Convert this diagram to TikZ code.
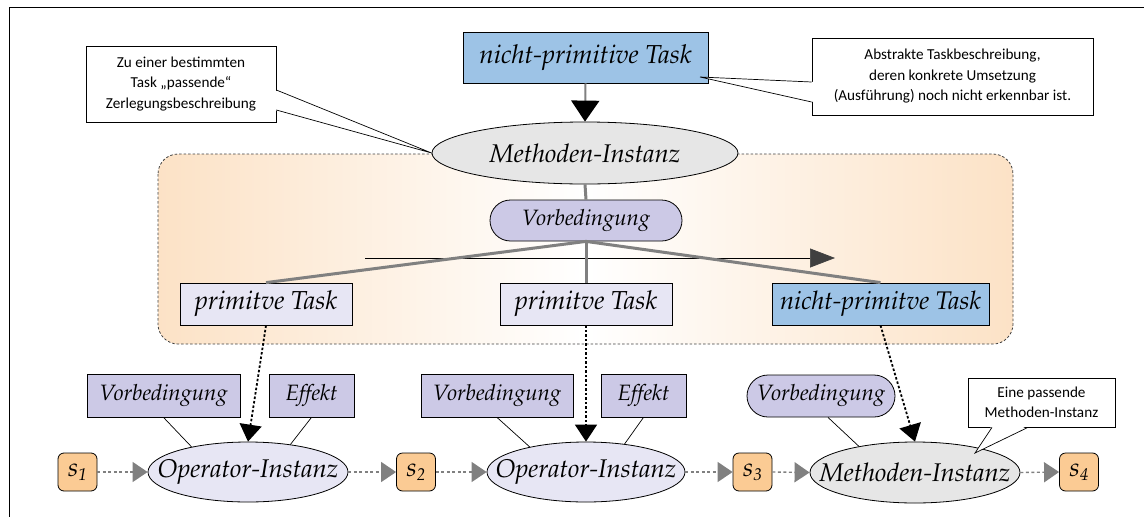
\documentclass[tikz,border=0pt]{standalone}
\usepackage[T1]{fontenc}
\usepackage{fontspec}
\newfontfamily\calibrifont{Carlito}
\usetikzlibrary{arrows.meta,shapes.geometric,shadows}
\newcommand\palit{\fontencoding{T1}\fontfamily{ppl}\fontseries{m}\fontshape{it}\selectfont}
\newcommand\zw[1]{\makebox[0pt]{#1}}
\definecolor{taskblue}{RGB}{157,195,230}
\definecolor{lavdark}{RGB}{204,201,230}
\definecolor{lavlight}{RGB}{231,230,244}
\definecolor{ellgray}{RGB}{230,230,230}
\definecolor{sorange}{RGB}{251,203,148}
\definecolor{frameorange}{RGB}{252,226,198}
\definecolor{linegray}{RGB}{128,128,128}
\definecolor{tipgray}{RGB}{64,64,64}
\tikzset{
  boxshadow/.style={drop shadow={shadow xshift=1.2pt,shadow yshift=-1.2pt,fill=black!45,opacity=0.5}},
  bluebox/.style={draw=black,line width=0.8pt,fill=taskblue,inner sep=0pt,boxshadow},
  primbox/.style={draw=black,line width=0.8pt,fill=lavlight,inner sep=0pt,font=\palit\fontsize{26}{30}\selectfont,boxshadow},
  condbox/.style={draw=black,line width=0.8pt,fill=lavdark,inner sep=0pt,font=\palit\fontsize{22.2}{26}\selectfont,boxshadow},
  condpill/.style={draw=black,line width=0.8pt,fill=lavdark,inner sep=0pt,font=\palit\fontsize{22.2}{26}\selectfont},
  instell/.style={ellipse,draw=black,line width=0.8pt,inner sep=0pt,font=\palit\fontsize{25.6}{30}\selectfont},
  statebox/.style={draw=black,line width=0.8pt,fill=sorange,rounded corners=6pt,minimum width=39pt,minimum height=38pt,inner sep=0pt,font=\palit\fontsize{26}{30}\selectfont},
  callout/.style={draw=black,line width=0.7pt,fill=white,inner sep=0pt,align=center,font=\calibrifont\fontsize{15.2}{20.5}\selectfont,boxshadow},
  tree/.style={draw=linegray,line width=3pt},
  seqarrow/.style={draw=linegray,line width=1.4pt,dash pattern=on 3pt off 2.5pt,-{Triangle[length=15pt,width=20pt,color=linegray]}},
  refarrow/.style={draw=black,line width=1.8pt,dash pattern=on 2.5pt off 2pt,-{Triangle[length=17pt,width=22pt]}},
  thin/.style={draw=black,line width=0.7pt}
}
\newcommand\sub[2]{#1\raisebox{-0.35ex}{\fontsize{17}{20}\selectfont #2}}
\begin{document}
\begin{tikzpicture}[x=1pt,y=-1pt]
\useasboundingbox (0,0) rectangle (1144,517);
% outer frame
\draw[line width=0.9pt] (9,517) -- (9,7) -- (1144,7);

% orange region
\shade[rounded corners=20pt,left color=frameorange,right color=frameorange,middle color=white] (158,154) rectangle (1013,344);
\draw[line width=0.8pt,black!75,dash pattern=on 2.5pt off 2pt,rounded corners=20pt] (158,154) rectangle (1013,344);

% top
\node[bluebox,font=\palit\fontsize{26}{30}\selectfont,minimum width=245pt,minimum height=51pt] (topTask) at (585.5,57.5) {nicht-primitive Task};
\node[instell,fill=ellgray,minimum width=306pt,minimum height=62pt] (topM) at (585,153) {\zw{Methoden-Instanz}};
\draw[draw=linegray,line width=2pt,-{Triangle[length=21pt,width=28pt,color=black]}] (topTask.south) -- (topM.north);

% decomposition
\node[condpill,rounded corners=20.5pt,minimum width=192pt,minimum height=41pt] (vorb0) at (586,220.5) {Vorbedingung};
\draw[tree] (topM.south) -- (vorb0.north);
\node[primbox,minimum width=172pt,minimum height=42pt] (pt1) at (266,304) {primitve Task};
\node[primbox,minimum width=172pt,minimum height=42pt] (pt2) at (586,304) {primitve Task};
\node[bluebox,font=\palit\fontsize{25.5}{30}\selectfont,minimum width=217pt,minimum height=42pt] (npt) at (880.5,304) {nicht-primitve Task};
\coordinate (ha) at (365,258);
\coordinate (hb) at (835,258);
\draw[thin,-{Triangle[length=25pt,width=19pt,color=tipgray]}] (ha) -- (hb);
\draw[tree] (vorb0.south) -- (pt1.north);
\draw[tree] (vorb0.south) -- (pt2.north);
\draw[tree] (vorb0.south) -- (npt.north);

% bottom row
\node[statebox] (s1) at (77.5,472) {\sub{s}{1}};
\node[instell,fill=lavlight,minimum width=200pt,minimum height=60pt] (op1) at (248,472) {\zw{Operator-Instanz}};
\node[condbox,minimum width=153pt,minimum height=43pt] (v1) at (163.5,395.5) {Vorbedingung};
\node[condbox,minimum width=85pt,minimum height=43pt] (e1) at (311.5,395.5) {Effekt};
\node[statebox] (s2) at (416,472) {\sub{s}{2}};
\node[instell,fill=lavlight,minimum width=198pt,minimum height=60pt] (op2) at (586,472) {\zw{Operator-Instanz}};
\node[condbox,minimum width=152pt,minimum height=43pt] (v2) at (497,395.5) {Vorbedingung};
\node[condbox,minimum width=85pt,minimum height=43pt] (e2) at (643.5,395.5) {Effekt};
\node[statebox] (s3) at (752.5,472) {\sub{s}{3}};
\node[instell,fill=ellgray,minimum width=210pt,minimum height=61pt] (m2) at (915,472.5) {\zw{Methoden-Instanz}};
\node[condpill,rounded corners=21pt,minimum width=148pt,minimum height=42pt] (v3) at (821,396) {Vorbedingung};
\node[statebox] (s4) at (1079,472) {\sub{s}{4}};

\draw[thin] (v1.south) -- (op1.156);
\draw[thin] (e1.south) -- (op1.33);
\draw[thin] (v2.south) -- (op2.156);
\draw[thin] (e2.south) -- (op2.36);
\draw[thin] ([xshift=7pt]v3.south) -- (m2.155);

\draw[seqarrow] (s1.east) -- (op1.west);
\draw[seqarrow] (op1.east) -- (s2.west);
\draw[seqarrow] (s2.east) -- (op2.west);
\draw[seqarrow] (op2.east) -- (s3.west);
\draw[seqarrow] (s3.east) -- (m2.west);
\draw[seqarrow] (m2.east) -- (s4.west);

\draw[refarrow] (pt1.south) -- (op1.north);
\draw[refarrow] (pt2.south) -- (op2.north);
\draw[refarrow] (npt.south) -- (m2.north);

% callouts
\node[callout,minimum width=190pt,minimum height=76pt] (cL) at (181,84) {Zu einer bestimmten\\Task „passende“\\Zerlegungsbeschreibung};
\fill[white] ([xshift=-2pt,yshift=-6pt]cL.east) -- (topM.west) -- ([xshift=-2pt,yshift=-26pt]cL.east) -- cycle;
\draw[line width=0.7pt] ([yshift=-6pt]cL.east) -- (topM.west) -- ([yshift=-26pt]cL.east);

\node[callout,minimum width=281pt,minimum height=77pt] (cR) at (952.5,76.5) {Abstrakte Taskbeschreibung,\\deren konkrete Umsetzung\\(Ausführung) noch nicht erkennbar ist.};
\coordinate (cRtip) at (700,77);
\fill[white] ([xshift=2pt,yshift=-5.5pt]cR.west) -- (cRtip) -- ([xshift=2pt,yshift=-25.5pt]cR.west) -- cycle;
\draw[line width=0.7pt] ([yshift=-5.5pt]cR.west) -- (cRtip) -- ([yshift=-25.5pt]cR.west);

\node[callout,minimum width=147pt,minimum height=49pt] (cB) at (1041.5,402.5) {Eine passende\\Methoden-Instanz};
\coordinate (cBtip) at (975,453);
\fill[white] ([xshift=-49.5pt,yshift=2pt]cB.south) -- (cBtip) -- ([xshift=-13.5pt,yshift=2pt]cB.south) -- cycle;
\draw[line width=0.7pt] ([xshift=-49.5pt]cB.south) -- (cBtip) -- ([xshift=-13.5pt]cB.south);
\end{tikzpicture}
\end{document}
